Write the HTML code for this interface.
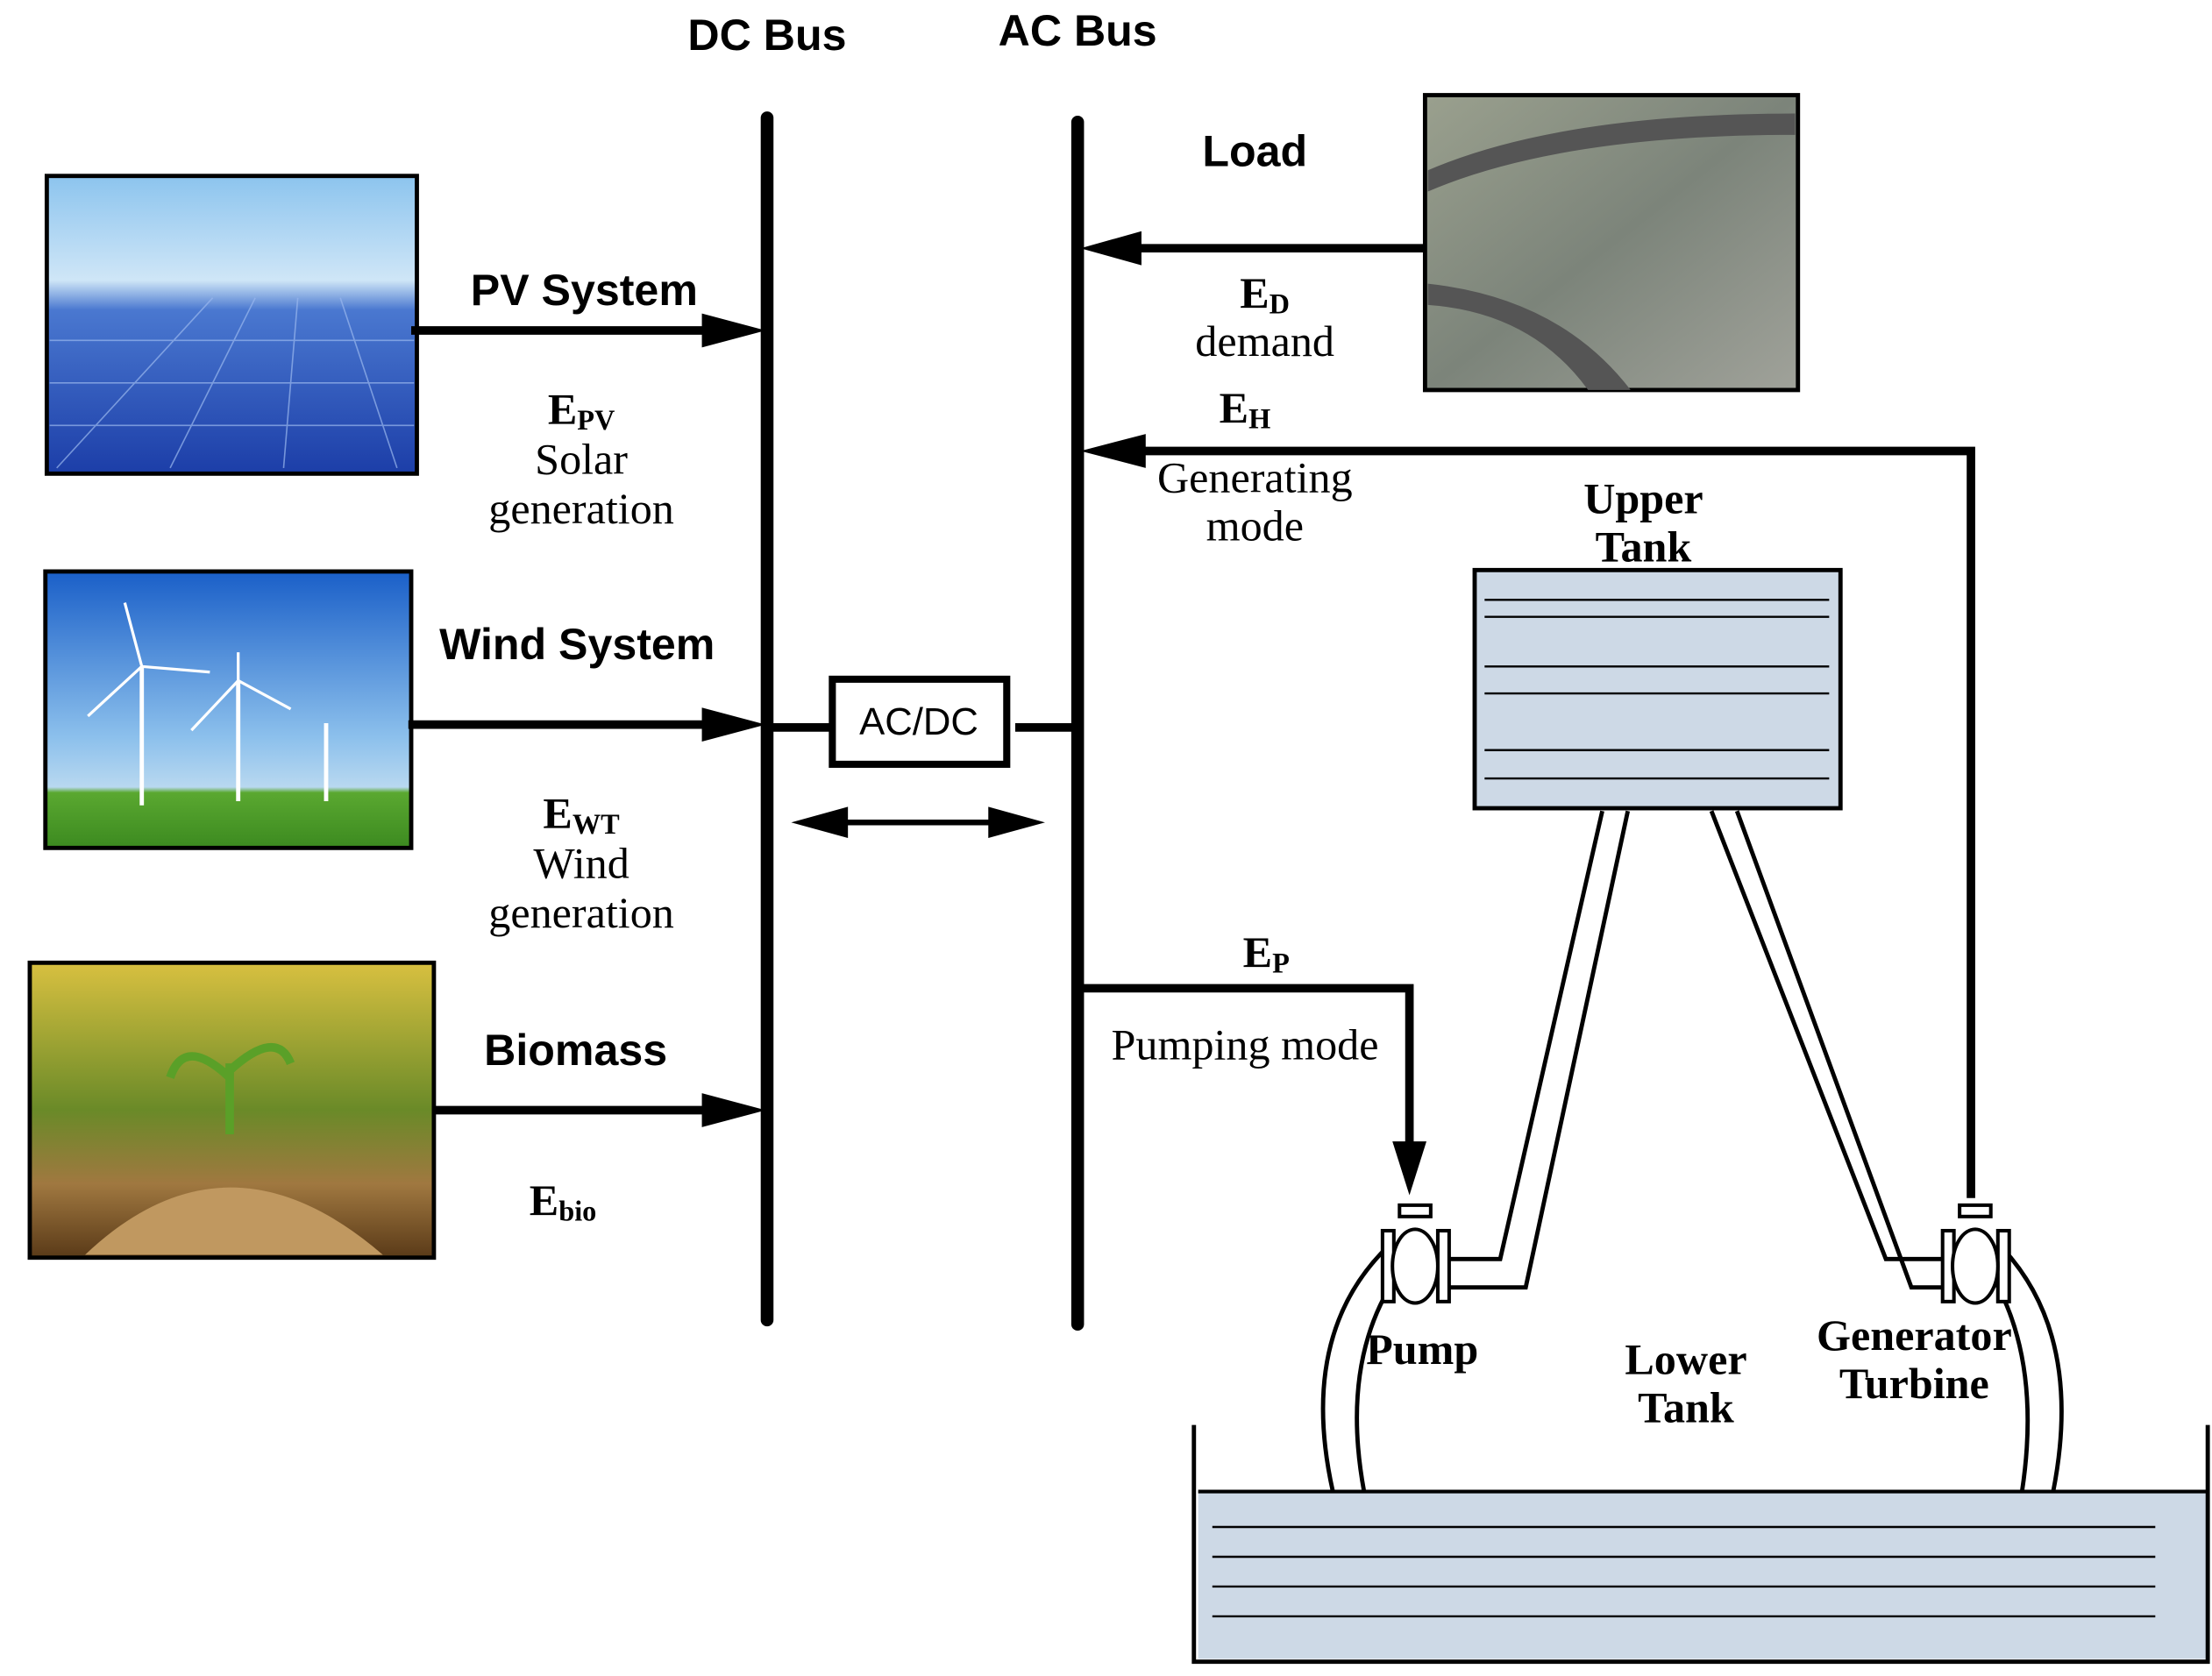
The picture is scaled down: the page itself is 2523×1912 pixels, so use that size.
<!DOCTYPE html>
<html><head><meta charset="utf-8"><style>
html,body{margin:0;padding:0;background:#fff;}
svg{display:block;}
.s{font-family:"Liberation Sans",sans-serif;font-weight:bold;text-anchor:middle;}
.r{font-family:"Liberation Serif",serif;text-anchor:middle;}
</style></head><body>
<svg width="2523" height="1912" viewBox="0 0 1560 1182" xmlns="http://www.w3.org/2000/svg">
<defs>
<linearGradient id="pv" x1="0" y1="0" x2="0" y2="1"><stop offset="0" stop-color="#8cc4ee"/><stop offset="0.35" stop-color="#cfe6f7"/><stop offset="0.45" stop-color="#4a78d0"/><stop offset="1" stop-color="#1c3ea8"/></linearGradient>
<linearGradient id="wd" x1="0" y1="0" x2="0" y2="1"><stop offset="0" stop-color="#1a5fc8"/><stop offset="0.6" stop-color="#8cc0ec"/><stop offset="0.78" stop-color="#b8d8f0"/><stop offset="0.8" stop-color="#5aa830"/><stop offset="1" stop-color="#3c8a20"/></linearGradient>
<linearGradient id="bm" x1="0" y1="0" x2="0" y2="1"><stop offset="0" stop-color="#d8c040"/><stop offset="0.5" stop-color="#6a8a28"/><stop offset="0.75" stop-color="#a07840"/><stop offset="1" stop-color="#5a3a18"/></linearGradient>
<linearGradient id="ld" x1="0" y1="0" x2="1" y2="1"><stop offset="0" stop-color="#9aa08e"/><stop offset="0.5" stop-color="#7c847a"/><stop offset="1" stop-color="#a0a29a"/></linearGradient>
</defs>

<text class="s" x="541" y="35" font-size="31">DC Bus</text>
<text class="s" x="760" y="32" font-size="31">AC Bus</text>
<line x1="541" y1="83" x2="541" y2="931" stroke="#000" stroke-width="9" stroke-linecap="round"/>
<line x1="760" y1="86" x2="760" y2="934" stroke="#000" stroke-width="9" stroke-linecap="round"/>

<!-- PV -->
<rect x="33" y="124" width="261" height="210" fill="url(#pv)" stroke="#000" stroke-width="3"/>
<g stroke="#9ab8ee" stroke-width="1" opacity="0.7">
<line x1="35" y1="240" x2="292" y2="240"/><line x1="35" y1="270" x2="292" y2="270"/><line x1="35" y1="300" x2="292" y2="300"/>
<line x1="150" y1="210" x2="40" y2="330"/><line x1="180" y1="210" x2="120" y2="330"/><line x1="210" y1="210" x2="200" y2="330"/><line x1="240" y1="210" x2="280" y2="330"/>
</g>
<line x1="290" y1="233" x2="500" y2="233" stroke="#000" stroke-width="6"/>
<polygon points="495,221 540,233 495,245" fill="#000"/>
<text class="s" x="412" y="215" font-size="31">PV System</text>
<text class="r" x="410" y="299" font-size="31" font-weight="bold">E<tspan font-size="20" dy="4">PV</tspan></text>
<text class="r" x="410" y="334" font-size="31">Solar</text>
<text class="r" x="410" y="369" font-size="31">generation</text>

<!-- Wind -->
<rect x="32" y="403" width="258" height="195" fill="url(#wd)" stroke="#000" stroke-width="3"/>
<g stroke="#fff" stroke-width="3">
<line x1="100" y1="470" x2="100" y2="568"/><line x1="168" y1="480" x2="168" y2="565"/><line x1="230" y1="510" x2="230" y2="565"/>
<line x1="100" y1="470" x2="88" y2="425" stroke-width="2"/><line x1="100" y1="470" x2="148" y2="474" stroke-width="2"/><line x1="100" y1="470" x2="62" y2="505" stroke-width="2"/>
<line x1="168" y1="480" x2="168" y2="460" stroke-width="2"/><line x1="168" y1="480" x2="205" y2="500" stroke-width="2"/><line x1="168" y1="480" x2="135" y2="515" stroke-width="2"/>
</g>
<line x1="288" y1="511" x2="500" y2="511" stroke="#000" stroke-width="6"/>
<polygon points="495,499 540,511 495,523" fill="#000"/>
<text class="s" x="407" y="465" font-size="31">Wind System</text>
<text class="r" x="410" y="584" font-size="31" font-weight="bold">E<tspan font-size="20" dy="4">WT</tspan></text>
<text class="r" x="410" y="619" font-size="31">Wind</text>
<text class="r" x="410" y="654" font-size="31">generation</text>

<!-- Biomass -->
<rect x="21" y="679" width="285" height="208" fill="url(#bm)" stroke="#000" stroke-width="3"/>
<path d="M60,885 Q160,790 270,885 z" fill="#c09860"/>
<path d="M162,800 L162,750 M162,760 Q130,730 120,760 M162,755 Q195,725 205,750" stroke="#5aa028" stroke-width="6" fill="none"/>
<line x1="305" y1="783" x2="500" y2="783" stroke="#000" stroke-width="6"/>
<polygon points="495,771 540,783 495,795" fill="#000"/>
<text class="s" x="406" y="751" font-size="31">Biomass</text>
<text class="r" x="397" y="857" font-size="31" font-weight="bold">E<tspan font-size="20" dy="4">bio</tspan></text>

<!-- AC/DC -->
<line x1="541" y1="513" x2="588" y2="513" stroke="#000" stroke-width="6"/>
<line x1="716" y1="513" x2="760" y2="513" stroke="#000" stroke-width="6"/>
<rect x="587" y="479" width="123" height="60" fill="#fff" stroke="#000" stroke-width="5"/>
<text x="648" y="518" font-family="Liberation Sans,sans-serif" font-size="27" text-anchor="middle">AC/DC</text>
<line x1="590" y1="580" x2="705" y2="580" stroke="#000" stroke-width="4"/>
<polygon points="558,580 598,569 598,591" fill="#000"/>
<polygon points="737,580 697,569 697,591" fill="#000"/>

<!-- Load -->
<rect x="1005" y="67" width="263" height="208" fill="url(#ld)" stroke="#000" stroke-width="3"/>
<path d="M1007,120 Q1100,80 1266,80 L1266,95 Q1100,95 1007,135 z" fill="#555"/>
<path d="M1007,200 Q1100,210 1150,275 L1120,275 Q1080,220 1007,215 z" fill="#555"/>
<text class="s" x="885" y="117" font-size="31">Load</text>
<line x1="1005" y1="175" x2="800" y2="175" stroke="#000" stroke-width="6"/>
<polygon points="762,175 805,163 805,187" fill="#000"/>
<text class="r" x="892" y="217" font-size="31" font-weight="bold">E<tspan font-size="20" dy="4">D</tspan></text>
<text class="r" x="892" y="251" font-size="31">demand</text>

<!-- Generating -->
<text class="r" x="878" y="298" font-size="31" font-weight="bold">E<tspan font-size="20" dy="4">H</tspan></text>
<polyline points="1390,845 1390,318 800,318" fill="none" stroke="#000" stroke-width="6"/>
<polygon points="762,318 808,306 808,330" fill="#000"/>
<text class="r" x="885" y="347" font-size="31">Generating</text>
<text class="r" x="885" y="381" font-size="31">mode</text>

<!-- Upper tank -->
<text class="r" x="1159" y="362" font-size="31" font-weight="bold">Upper</text>
<text class="r" x="1159" y="396" font-size="31" font-weight="bold">Tank</text>
<rect x="1040" y="402" width="258" height="168" fill="#cdd9e6" stroke="#000" stroke-width="3"/>
<g stroke="#000" stroke-width="1.5">
<line x1="1047" y1="423" x2="1290" y2="423"/><line x1="1047" y1="435" x2="1290" y2="435"/>
<line x1="1047" y1="470" x2="1290" y2="470"/><line x1="1047" y1="489" x2="1290" y2="489"/>
<line x1="1047" y1="529" x2="1290" y2="529"/><line x1="1047" y1="549" x2="1290" y2="549"/>
</g>

<!-- Pumping -->
<text class="r" x="893" y="682" font-size="31" font-weight="bold">E<tspan font-size="20" dy="4">P</tspan></text>
<polyline points="762,697 994,697 994,810" fill="none" stroke="#000" stroke-width="6"/>
<polygon points="982,805 1006,805 994,843" fill="#000"/>
<text class="r" x="878" y="747" font-size="31">Pumping mode</text>

<!-- pipes -->
<g fill="none" stroke="#000" stroke-width="3">
<polyline points="1130,572 1058,888 1020,888"/>
<polyline points="1148,572 1076,908 1020,908"/>
<polyline points="1207,572 1330,888 1372,888"/>
<polyline points="1225,572 1348,908 1372,908"/>
<path d="M980,878 Q915,940 940,1052"/>
<path d="M985,900 Q945,960 962,1052"/>
<path d="M1410,878 Q1470,940 1448,1052"/>
<path d="M1405,900 Q1440,960 1426,1052"/>
</g>
<g fill="#fff" stroke="#000" stroke-width="2.5">
<rect x="975" y="868" width="8" height="50"/><rect x="1014" y="868" width="8" height="50"/>
<ellipse cx="998" cy="893" rx="16" ry="26"/>
<rect x="987" y="850" width="22" height="8"/>
<rect x="1370" y="868" width="8" height="50"/><rect x="1409" y="868" width="8" height="50"/>
<ellipse cx="1393" cy="893" rx="16" ry="26"/>
<rect x="1382" y="850" width="22" height="8"/>
</g>
<text class="r" x="1003" y="962" font-size="31" font-weight="bold">Pump</text>
<text class="r" x="1189" y="969" font-size="31" font-weight="bold">Lower</text>
<text class="r" x="1189" y="1003" font-size="31" font-weight="bold">Tank</text>
<text class="r" x="1350" y="952" font-size="31" font-weight="bold">Generator</text>
<text class="r" x="1350" y="986" font-size="31" font-weight="bold">Turbine</text>

<!-- Lower tank -->
<rect x="845" y="1052" width="712" height="118" fill="#cdd9e6"/>
<line x1="845" y1="1052" x2="1557" y2="1052" stroke="#000" stroke-width="2.5"/>
<polyline points="842,1005 842,1172 1557,1172 1557,1005" fill="none" stroke="#000" stroke-width="3"/>
<g stroke="#000" stroke-width="1.5">
<line x1="855" y1="1077" x2="1520" y2="1077"/><line x1="855" y1="1098" x2="1520" y2="1098"/>
<line x1="855" y1="1119" x2="1520" y2="1119"/><line x1="855" y1="1140" x2="1520" y2="1140"/>
</g>
</svg>
</body></html>
